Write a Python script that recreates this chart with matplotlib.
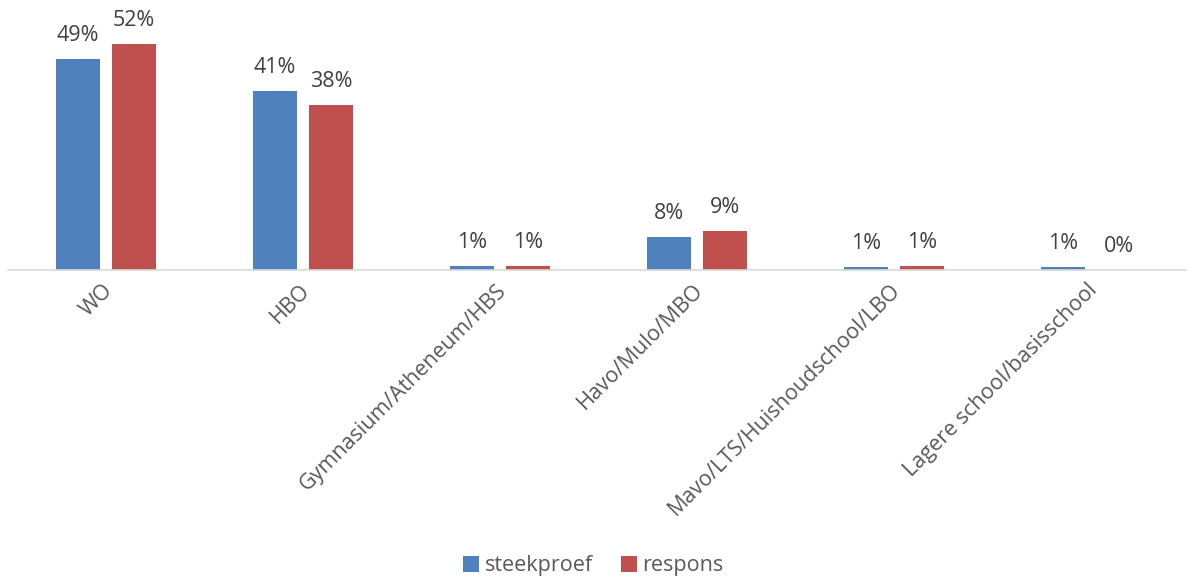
import matplotlib
matplotlib.use("Agg")
import matplotlib.pyplot as plt
import numpy as np

categories = ["WO", "HBO", "Gymnasium/Atheneum/HBS", "Havo/Mulo/MBO",
              "Mavo/LTS/Huishoudschool/LBO", "Lagere school/basisschool"]
steekproef = [48.7, 41.3, 0.85, 7.7, 0.6, 0.6]
respons = [52.2, 38.1, 0.9, 8.9, 0.9, 0.0]
series_names = ["steekproef", "respons"]
colors = ["#4f81bd", "#c0504d"]

plt.rcParams['font.family'] = ['Open Sans', 'DejaVu Sans']
text_color = "#595959"
label_color = "#404040"

fig = plt.figure(figsize=(11.87, 5.85), dpi=100)
ax = fig.add_axes([7.5/1187, 315/585, 1182/1187, 260/585])

x = np.arange(len(categories))
w = 44/197
gap = 12/197
off = (w + gap) / 2
for vals, name, col, d in [(steekproef, series_names[0], colors[0], -off),
                           (respons, series_names[1], colors[1], off)]:
    bars = ax.bar(x + d, vals, width=w, color=col, label=name)
    for b, v in zip(bars, vals):
        ax.text(b.get_x() + b.get_width()/2, v + 3.0, f"{round(v):.0f}%",
                ha="center", va="bottom", fontsize=15.5, color=label_color)

ax.set_xlim(-0.5, len(categories) - 0.5)
ax.set_ylim(0, 60)
ax.set_yticks([])
for s in ["top", "right", "left"]:
    ax.spines[s].set_visible(False)
ax.spines["bottom"].set_color("#d9d9d9")
ax.spines["bottom"].set_linewidth(1.2)
ax.set_xticks(x)
ax.set_xticklabels(categories, rotation=45, ha="right", rotation_mode="anchor",
                   fontsize=15.5, color=text_color)
ax.tick_params(axis="x", length=0, pad=7)
for lbl in ax.get_xticklabels():
    lbl.set_x(lbl.get_position()[0])
# small leftward shift of tick labels
import matplotlib.transforms as mtransforms
shift = mtransforms.ScaledTranslation(-4/100, 0, fig.dpi_scale_trans)
for lbl in ax.get_xticklabels():
    lbl.set_transform(lbl.get_transform() + shift)

leg = fig.legend(loc="center", bbox_to_anchor=(0.5, 1 - 566/585), ncol=2,
                 frameon=False, fontsize=15.5, handlelength=0.75, handleheight=0.75,
                 columnspacing=1.3, handletextpad=0.25)
for t in leg.get_texts():
    t.set_color(text_color)

fig.savefig("out.png", dpi=100)
